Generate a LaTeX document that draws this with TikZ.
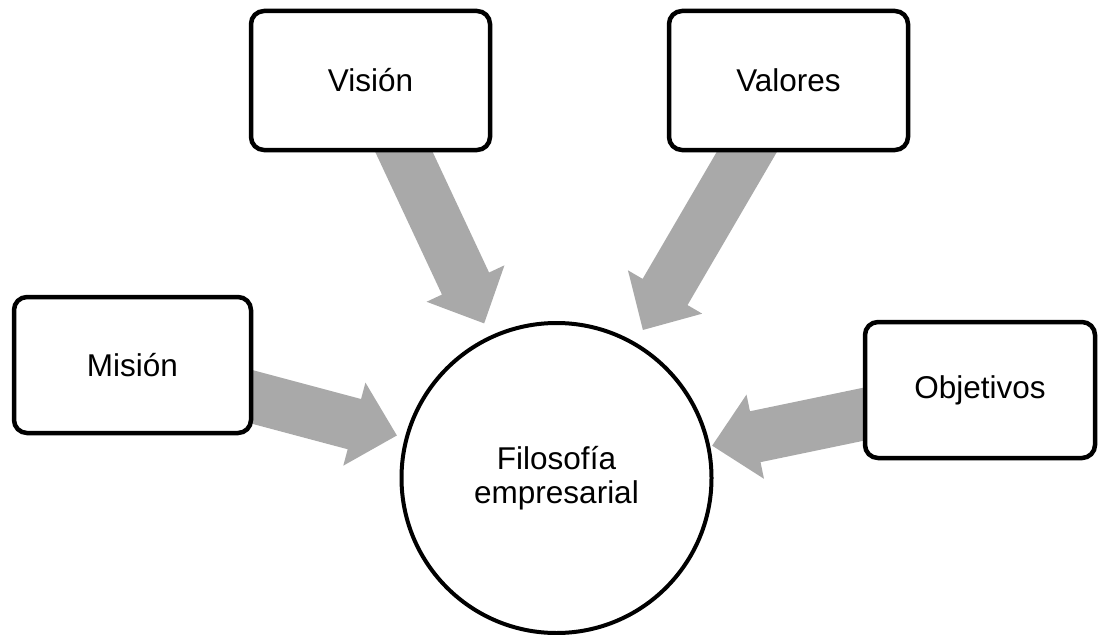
\documentclass[tikz,border=0pt]{standalone}
\usepackage{fontspec}
\setmainfont{Liberation Sans}
\usetikzlibrary{calc,backgrounds}
\definecolor{arrowgray}{RGB}{169,169,169}
\tikzset{
  topic/.style={draw, line width=4.5pt, rounded corners=13pt, fill=white,
    font=\fontsize{31.5}{36}\selectfont, inner sep=0pt},
  hub/.style={draw, circle, line width=4pt, fill=white, minimum size=310pt,
    align=center, font=\fontsize{31.5}{34}\selectfont, inner sep=0pt},
  arrowfill/.style={fill=arrowgray}
}
% Block arrow from #1 (tail) to #2 (tip): shaft half-width 26, head half-width 43, head length 44
\newcommand\blockarrow[2]{%
  \path ($(#2)!44pt!(#1)$) coordinate (hb);
  \fill[arrowfill] ($(#1)!26pt!90:(#2)$) -- ($(hb)!26pt!90:(#2)$)
    -- ($(hb)!43pt!90:(#2)$) -- (#2) -- ($(hb)!43pt!-90:(#2)$)
    -- ($(hb)!26pt!-90:(#2)$) -- ($(#1)!26pt!-90:(#2)$) -- cycle;
}
\begin{document}
\begin{tikzpicture}[x=1pt, y=-1pt]
  \useasboundingbox (0,0) rectangle (1099,634);

  % central hub
  \node[hub] (fil) at (556.5,478) {Filosofía\\empresarial};

  % surrounding topics
  \node[topic, minimum width=239pt, minimum height=139pt] (vis) at (370.5,80.5) {Visión};
  \node[topic, minimum width=239pt, minimum height=139pt] (val) at (788.5,80.5) {Valores};
  \node[topic, minimum width=237pt, minimum height=136pt] (mis) at (132.5,365) {Misión};
  \node[topic, minimum width=230pt, minimum height=136pt] (obj) at (980,390) {Objetivos};

  % arrow tips just outside the hub
  \coordinate (tvis) at ($(fil.center)!170.7pt!(vis.center)$);
  \coordinate (tval) at ($(fil.center)!171.4pt!(val.center)$);
  \coordinate (tmis) at ($(fil.center)!165.2pt!(mis.center)$);
  \coordinate (tobj) at ($(fil.center)!159pt!(obj.center)$);

  \begin{scope}[on background layer]
    \blockarrow{vis.center}{tvis}
    \blockarrow{val.center}{tval}
    \blockarrow{mis.center}{tmis}
    \blockarrow{obj.center}{tobj}
  \end{scope}
\end{tikzpicture}
\end{document}
